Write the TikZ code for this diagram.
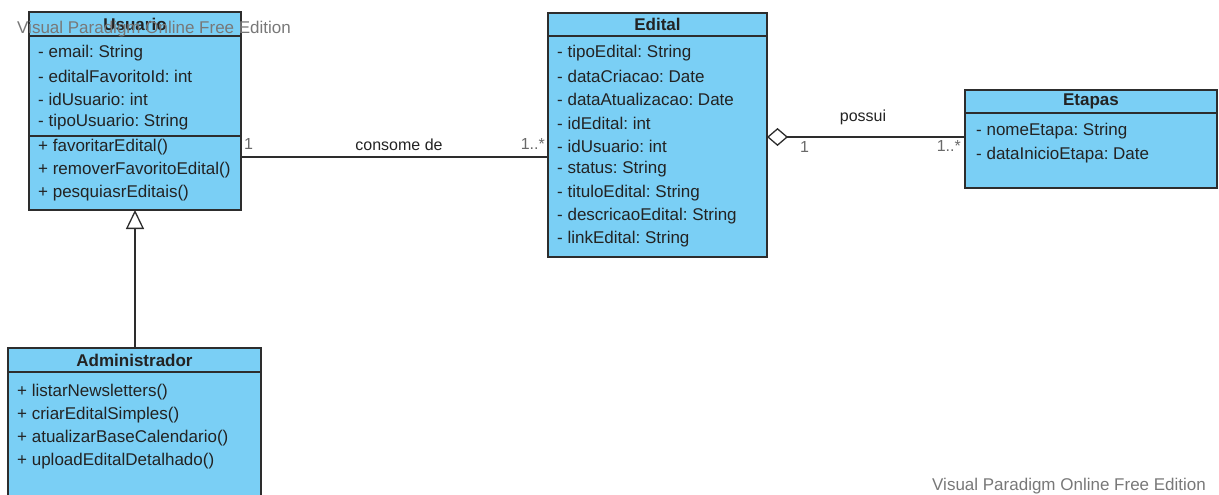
\documentclass[tikz,border=0pt]{standalone}
\usepackage{fontspec}
\setmainfont{Liberation Sans}
\usetikzlibrary{arrows.meta}
\definecolor{boxfill}{RGB}{122,207,245}
\definecolor{boxline}{RGB}{45,45,45}
\definecolor{txt}{RGB}{35,35,35}
\definecolor{wm}{RGB}{120,120,120}
\definecolor{mult}{RGB}{105,105,105}
\frenchspacing
\begin{document}
\begin{tikzpicture}[x=1pt,y=-1pt,
  classbox/.style={draw=boxline, fill=boxfill, line width=1.3pt, inner sep=0pt, outer sep=0pt, anchor=north west},
  sepline/.style={draw=boxline, line width=1.3pt},
  member/.style={anchor=west, inner sep=0pt, text=txt, font=\fontsize{17}{20}\selectfont},
  title/.style={anchor=center, inner sep=0pt, text=txt, font=\fontsize{17}{20}\selectfont\bfseries},
  multlabel/.style={inner sep=0pt, text=mult, font=\fontsize{16}{19}\selectfont},
  assoclabel/.style={inner sep=0pt, text=txt, font=\fontsize{16}{19}\selectfont},
  wmark/.style={inner sep=0pt, anchor=west, text=wm, font=\fontsize{17}{20}\selectfont},
  conn/.style={draw=boxline, line width=1.3pt}
]
\useasboundingbox (0,0) rectangle (1219,495);
\clip (0,0) rectangle (1219,495);

% ---------- Usuario ----------
\node[classbox, minimum width=212pt, minimum height=198pt] (usuario) at (29,12) {};
\draw[sepline] (usuario.west |- 0,36) -- (usuario.east |- 0,36);
\draw[sepline] (usuario.west |- 0,136) -- (usuario.east |- 0,136);
\node[title] (usuarioT) at (135,24) {Usuario};
\node[member] (u1) at (38,53.5) {- email: String};
\node[member] (u2) at (38,76.5) {- editalFavoritoId: int};
\node[member] (u3) at (38,99.5) {- idUsuario: int};
\node[member] (u4) at (38,122.5) {- tipoUsuario: String};
\node[member] (u5) at (38,147.5) {+ favoritarEdital()};
\node[member] (u6) at (38,170.5) {+ removerFavoritoEdital()};
\node[member] (u7) at (38,193.5) {+ pesquiasrEditais()};

% ---------- Edital ----------
\node[classbox, minimum width=219pt, minimum height=244pt] (edital) at (548,13) {};
\draw[sepline] (edital.west |- 0,36) -- (edital.east |- 0,36);
\node[title] (editalT) at (657.5,24) {Edital};
\node[member] (e1) at (557,53.5) {- tipoEdital: String};
\node[member] (e2) at (557,76.7) {- dataCriacao: Date};
\node[member] (e3) at (557,99.9) {- dataAtualizacao: Date};
\node[member] (e4) at (557,123.1) {- idEdital: int};
\node[member] (e5) at (557,146.3) {- idUsuario: int};
\node[member] (e6) at (557,169.5) {- status: String};
\node[member] (e7) at (557,192.7) {- tituloEdital: String};
\node[member] (e8) at (557,215.9) {- descricaoEdital: String};
\node[member] (e9) at (557,239.1) {- linkEdital: String};

% ---------- Etapas ----------
\node[classbox, minimum width=252pt, minimum height=98pt] (etapas) at (965,90) {};
\draw[sepline] (etapas.west |- 0,113) -- (etapas.east |- 0,113);
\node[title] (etapasT) at (1091,101.5) {Etapas};
\node[member] (t1) at (976,131.5) {- nomeEtapa: String};
\node[member] (t2) at (976,155) {- dataInicioEtapa: Date};

% ---------- Administrador ----------
\node[classbox, minimum width=253pt, minimum height=170pt] (admin) at (8,348) {};
\draw[sepline] (admin.west |- 0,372) -- (admin.east |- 0,372);
\node[title] (adminT) at (134.5,360) {Administrador};
\node[member] (a1) at (17,392.5) {+ listarNewsletters()};
\node[member] (a2) at (17,415.5) {+ criarEditalSimples()};
\node[member] (a3) at (17,438.5) {+ atualizarBaseCalendario()};
\node[member] (a4) at (17,461.5) {+ uploadEditalDetalhado()};

% ---------- Connectors ----------
\coordinate (genx) at (135,0);
\draw[conn, -{Triangle[open, length=19pt, width=18pt, line width=1.3pt, fill=white]}]
  (admin.north -| genx) -- (usuario.south -| genx);

\coordinate (assocy) at (0,157);
\draw[conn] (usuario.east |- assocy) -- (edital.west |- assocy);
\node[multlabel, anchor=west] (m1) at (244,144) {1};
\node[assoclabel] (lbl1) at (399,145) {consome de};
\node[multlabel, anchor=east] (m2) at (545,144) {1..*};

\coordinate (aggy) at (0,137);
\draw[conn, {Diamond[open, length=21pt, width=18pt, line width=1.3pt, fill=white]}-]
  (edital.east |- aggy) -- (etapas.west |- aggy);
\node[assoclabel] (lbl2) at (863,117) {possui};
\node[multlabel, anchor=west] (m3) at (800,147) {1};
\node[multlabel, anchor=east] (m4) at (961,146) {1..*};

% ---------- Watermarks ----------
\node[wmark] (wm1) at (17,29) {Visual Paradigm Online Free Edition};
\node[wmark] (wm2) at (932,486) {Visual Paradigm Online Free Edition};
\end{tikzpicture}
\end{document}
